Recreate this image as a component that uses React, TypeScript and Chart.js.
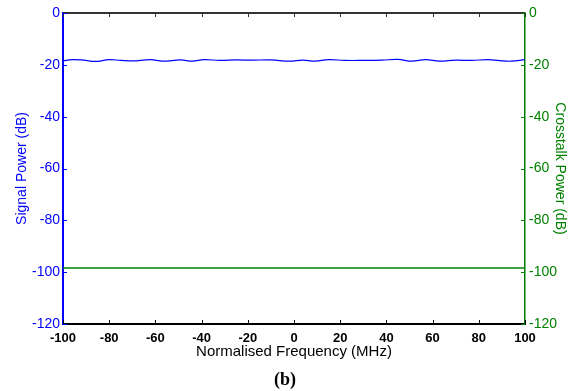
import React, { useEffect, useRef } from "react";
import { Chart, registerables } from "chart.js";

Chart.register(...registerables);

const signalFreq = [-100, -96, -91, -86, -80, -75, -70, -62, -57, -49, -44, -39, -32, -25, -18, -10, -2, 4, 9, 15, 22, 30, 38, 45, 51, 57, 63, 70, 77, 84, 89, 94, 100];
const signalPower = [-18.5, -18.0, -18.2, -18.7, -18.0, -18.3, -18.5, -18.0, -18.6, -18.1, -18.6, -18.0, -18.3, -18.1, -18.2, -18.1, -18.6, -18.2, -18.6, -18.0, -18.3, -18.3, -18.2, -17.9, -18.6, -18.0, -18.6, -18.2, -18.3, -18.0, -18.4, -18.6, -18.0];
const crosstalkFreq = [-100, 100];
const crosstalkPower = [-98.4, -98.4];
const xTitle = "Normalised Frequency (MHz)";
const yLeftTitle = "Signal Power (dB)";
const yRightTitle = "Crosstalk Power (dB)";
const caption = "(b)";

const BLUE = "#0000ff";
const GREEN = "#008000";

const inwardTicks = {
  id: "inwardTicks",
  afterDraw(chart: any) {
    const { ctx, chartArea } = chart;
    const x = chart.scales.x;
    const yl = chart.scales.y;
    const yr = chart.scales.y2;
    const L = 4;
    ctx.save();
    ctx.strokeStyle = "#333333";
    ctx.lineWidth = 2;
    ctx.beginPath();
    ctx.moveTo(chartArea.left, chartArea.top);
    ctx.lineTo(chartArea.right, chartArea.top);
    ctx.stroke();
    ctx.lineWidth = 1;
    x.ticks.forEach((t: any) => {
      const px = Math.round(x.getPixelForValue(t.value)) + 0.5;
      ctx.strokeStyle = "#000";
      ctx.beginPath();
      ctx.moveTo(px, chartArea.bottom);
      ctx.lineTo(px, chartArea.bottom - L);
      ctx.stroke();
      ctx.strokeStyle = "#333333";
      ctx.beginPath();
      ctx.moveTo(px, chartArea.top);
      ctx.lineTo(px, chartArea.top + L);
      ctx.stroke();
    });
    yl.ticks.forEach((t: any) => {
      const py = Math.round(yl.getPixelForValue(t.value)) + 0.5;
      ctx.strokeStyle = BLUE;
      ctx.beginPath();
      ctx.moveTo(chartArea.left, py);
      ctx.lineTo(chartArea.left + L, py);
      ctx.stroke();
    });
    yr.ticks.forEach((t: any) => {
      const py = Math.round(yr.getPixelForValue(t.value)) + 0.5;
      ctx.strokeStyle = GREEN;
      ctx.beginPath();
      ctx.moveTo(chartArea.right, py);
      ctx.lineTo(chartArea.right - L, py);
      ctx.stroke();
    });
    ctx.restore();
  },
};

export default function App() {
  const ref = useRef<HTMLCanvasElement>(null);
  useEffect(() => {
    document.body.style.margin = "0";
    const font = "'Liberation Sans', Arial, sans-serif";
    const chart = new Chart(ref.current!, {
      type: "line",
      data: {
        datasets: [
          {
            label: "Signal",
            data: signalFreq.map((f, i) => ({ x: f, y: signalPower[i] })),
            borderColor: BLUE,
            borderWidth: 1.2,
            pointRadius: 0,
            tension: 0.4,
            yAxisID: "y",
          },
          {
            label: "Crosstalk",
            data: crosstalkFreq.map((f, i) => ({ x: f, y: crosstalkPower[i] })),
            borderColor: GREEN,
            borderWidth: 1.5,
            pointRadius: 0,
            yAxisID: "y2",
          },
        ],
      },
      options: {
        animation: false,
        responsive: false,
        maintainAspectRatio: false,
        layout: { padding: { top: 13, left: 10, right: 8, bottom: 30 } },
        plugins: { legend: { display: false }, tooltip: { enabled: false } },
        scales: {
          x: {
            type: "linear",
            min: -100,
            max: 100,
            grid: { display: false, drawTicks: false },
            border: { display: true, color: "#000", width: 2 },
            ticks: { stepSize: 20, color: "#000", padding: 7, maxRotation: 0, font: { family: font, size: 13, weight: "bold" } },
            title: { display: true, text: xTitle, color: "#000", padding: { top: 2, bottom: 0 }, font: { family: font, size: 15 } },
            afterFit: (s: any) => { s.height = 37; },
          },
          y: {
            type: "linear",
            position: "left",
            min: -120,
            max: 0,
            grid: { display: false, drawTicks: false },
            border: { display: true, color: BLUE, width: 2 },
            ticks: { stepSize: 20, color: BLUE, padding: 3, font: { family: font, size: 14 } },
            title: { display: true, text: yLeftTitle, color: BLUE, padding: { top: 4, bottom: 4 }, font: { family: font, size: 14 } },
            afterFit: (s: any) => { s.width = 53; },
          },
          y2: {
            type: "linear",
            position: "right",
            min: -120,
            max: 0,
            grid: { display: false, drawTicks: false },
            border: { display: true, color: GREEN, width: 1.5 },
            ticks: { stepSize: 20, color: GREEN, padding: 4, font: { family: font, size: 14 } },
            title: { display: true, text: yRightTitle, color: GREEN, padding: { top: 4, bottom: 4 }, font: { family: font, size: 14 } },
            afterFit: (s: any) => { s.width = 47; },
          },
        },
      },
      plugins: [inwardTicks],
    });
    return () => chart.destroy();
  }, []);
  return (
    <div style={{ position: "relative", width: 580, height: 391 }}>
      <canvas ref={ref} width={580} height={391} style={{ display: "block" }} />
      <div
        style={{
          position: "absolute",
          left: 0,
          width: 570,
          top: 368,
          textAlign: "center",
          fontFamily: "'Liberation Serif', 'Times New Roman', serif",
          fontSize: 18,
          fontWeight: "bold",
          lineHeight: "22px",
          color: "#000",
        }}
      >
        {caption}
      </div>
    </div>
  );
}
